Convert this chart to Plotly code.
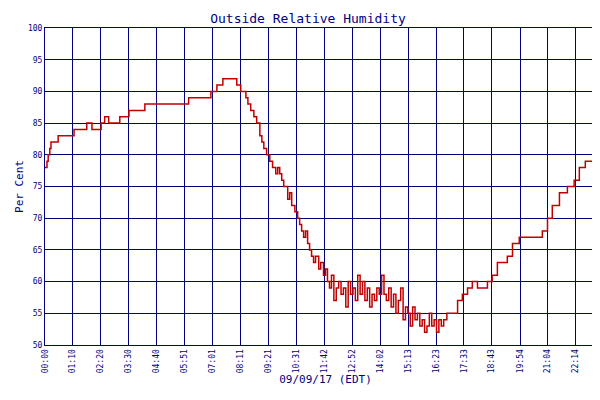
import plotly.graph_objects as go

# minutes after midnight, relative humidity %
minutes = [0, 5, 8, 12, 15, 33, 73, 105, 118, 141, 150, 160, 188, 200, 211, 251, 361, 417, 432, 447,
           482, 492, 500, 505, 510, 517, 525, 532, 540, 545, 550, 557, 565, 572, 580, 585, 590, 595,
           600, 610, 615, 620, 628, 635, 640, 645, 650, 655, 660, 665, 670, 675, 680, 688, 693, 700,
           705, 710, 715,
           720, 726, 732, 738, 744, 750, 756, 762, 768, 774, 780, 786, 792, 798, 804, 810, 816, 822,
           828, 834, 840, 846, 852, 858, 864, 870, 876, 882, 888, 894, 900, 906, 912, 918, 924, 930,
           936, 942, 948, 954, 960, 966, 972, 978, 984, 990, 996, 1002,
           1010, 1024, 1037, 1049, 1062, 1074, 1087, 1100, 1112, 1124, 1137, 1162, 1175, 1192, 1237,
           1250, 1263, 1275, 1293, 1313, 1330, 1343, 1358, 1388, 1400, 1410]
humidity = [78, 79, 80, 81, 82, 83, 84, 85, 84, 85, 86, 85, 86, 86, 87, 88, 89, 90, 91, 92,
            91, 90, 90, 89, 88, 87, 86, 85, 83, 82, 81, 80, 79, 78, 77, 78, 77, 76,
            75, 73, 74, 72, 71, 70, 69, 68, 67, 68, 66, 65, 64, 63, 64, 62, 63, 61,
            62, 60, 59,
            61, 57, 59, 60, 58, 59, 56, 60, 58, 59, 57, 61, 58, 60, 57, 59, 56, 58,
            57, 59, 58, 61, 58, 57, 59, 56, 58, 55, 57, 59, 54, 56, 55, 53, 56, 54,
            55, 53, 54, 52, 53, 55, 53, 54, 52, 54, 53, 54,
            55, 55, 57, 58, 59, 60, 59, 59, 60, 61, 63, 64, 66, 67, 67,
            68, 70, 72, 74, 75, 76, 78, 79, 79, 80, 80]

tick_vals = [0, 70, 140, 210, 280, 351, 421, 491, 561, 631, 702, 772, 842, 913, 983, 1053, 1123,
             1194, 1264, 1334, 1408]
tick_text = ["00:00", "01:10", "02:20", "03:30", "04:40", "05:51", "07:01", "08:11", "09:21", "10:31",
             "11:42", "12:52", "14:02", "15:13", "16:23", "17:33", "18:43", "19:54", "21:04", "22:14",
             "00:04"]

navy = "#000080"
font = "DejaVu Sans Mono"

fig = go.Figure()
fig.add_trace(go.Scatter(x=minutes, y=humidity, mode="lines", line_shape="hv",
                         line=dict(color="#c00000", width=1.5), name="Relative Humidity"))

fig.update_layout(
    width=600, height=400,
    paper_bgcolor="white", plot_bgcolor="white",
    margin=dict(l=37, r=2, t=20, b=63, autoexpand=False),
    title=dict(text="Outside Relative Humidity", x=0.5, y=0.985, font=dict(family=font, size=13, color=navy)),
    showlegend=True,
    legend=dict(orientation="h", x=0.5, xanchor="center", y=-0.155, yanchor="top",
                font=dict(family=font, size=9, color=navy)),
)
fig.update_xaxes(range=[0, 1410], tickvals=tick_vals, ticktext=tick_text, tickangle=-90,
                 showgrid=True, gridcolor=navy, gridwidth=1, showline=True, linecolor=navy, mirror=True,
                 tickfont=dict(family=font, size=8, color=navy), zeroline=False, automargin=False,
                 title=dict(text="09/09/17 (EDT)", font=dict(family=font, size=11, color=navy), standoff=2))
fig.update_yaxes(range=[50, 100], dtick=5, showgrid=True, gridcolor=navy, gridwidth=1,
                 showline=True, linecolor=navy, mirror=True, zeroline=False, automargin=False,
                 tickfont=dict(family=font, size=8, color=navy),
                 title=dict(text="Per Cent", font=dict(family=font, size=11, color=navy), standoff=2))

fig.write_html("out.html")
